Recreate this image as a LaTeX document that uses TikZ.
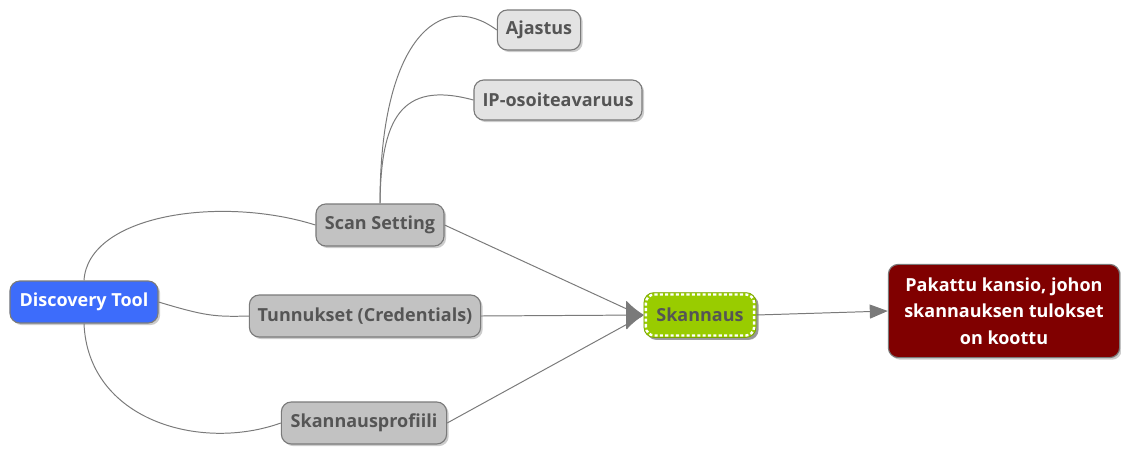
\documentclass[tikz,border=0pt]{standalone}
\usepackage{fontspec}
\setmainfont{Open Sans}[BoldFont={Open Sans Bold}]
\usepackage{tikz}
\usetikzlibrary{shapes,arrows.meta,positioning,shadows}
\definecolor{toolblue}{HTML}{3D6CFB}
\definecolor{boxgray}{HTML}{C2C2C2}
\definecolor{lightgray}{HTML}{E3E3E3}
\definecolor{edgegray}{HTML}{7A7A7A}
\definecolor{textgray}{HTML}{555555}
\definecolor{scangreen}{HTML}{99CC00}
\definecolor{darkred}{HTML}{800000}
\tikzstyle{box} = [rectangle,rounded corners=7pt,draw=edgegray,line width=0.8pt,
  minimum height=1.05cm,inner xsep=0.15cm,font=\fontsize{12.8}{15}\selectfont\bfseries,
  drop shadow={shadow xshift=1.5pt,shadow yshift=-1.5pt,opacity=0.4}]
\tikzstyle{setting} = [box,fill=boxgray,text=textgray]
\tikzstyle{leaf} = [box,fill=lightgray,text=textgray,minimum height=1cm]
\tikzstyle{link} = [draw=edgegray,line width=0.7pt]
\tikzset{>=latex}

\begin{document}
\begin{tikzpicture}[x=0.025cm,y=-0.025cm]
    \useasboundingbox (0,0) rectangle (1121,450);

    \node [box,fill=toolblue,text=white,minimum width=3.7cm] (disc) at (84,302) {Discovery Tool};
    \node [setting,minimum width=3.2cm] (scan) at (380,225) {Scan Setting};
    \node [setting,minimum width=5.78cm] (cred) at (365,316) {Tunnukset (Credentials)};
    \node [setting,minimum width=4.13cm] (prof) at (364,423) {Skannausprofiili};
    \node [leaf,minimum width=2.08cm] (time) at (539,30) {Ajastus};
    \node [leaf,minimum width=4.2cm] (ip) at (558,100) {IP-osoiteavaruus};
    \node [box,fill=scangreen,text=textgray,draw=scangreen!80!black,line width=0.5pt,
      minimum width=2.8cm,minimum height=1.12cm,
      drop shadow={shadow xshift=1.8pt,shadow yshift=-1.8pt,opacity=0.7}] (run) at (700,315) {Skannaus};
    \draw [white,line width=1.7pt,dash pattern=on 2.2pt off 1.6pt,rounded corners=6pt]
      ([shift={(1.6pt,1.6pt)}]run.south west) rectangle ([shift={(-1.6pt,-1.6pt)}]run.north east);
    \node [box,fill=darkred,text=white,align=center,minimum width=5.78cm,minimum height=2.33cm,
      font=\fontsize{12.8}{19}\selectfont\bfseries] (pack) at (1004,311)
      {Pakattu kansio, johon\\skannauksen tulokset\\on koottu};

    % tool to settings
    \draw [link] (disc.north) .. controls (88,215) and (220,195) .. (scan.west);
    \draw [link] (disc.east) .. controls (205,316) and (215,317) .. (cred.west);
    \draw [link] (disc.south) .. controls (88,420) and (200,452) .. (prof.west);

    % scan setting details
    \draw [link] (scan.north) .. controls (380,40) and (440,-12) .. (time.west);
    \draw [link] (scan.north) .. controls (381,120) and (400,80) .. (ip.west);

    % into the scan
    \coordinate (tip) at (642,316);
    \draw [link] (scan.east) -- (tip);
    \draw [link] (prof.east) -- (tip);
    \draw [link,-{Latex[length=4.5mm,width=7.5mm,round]},fill=edgegray] (cred.east) -- (run.west);

    \draw [link,-{Triangle[length=4.5mm,width=3.5mm]},fill=edgegray] (run.east) -- (pack.west);
\end{tikzpicture}
\end{document}
